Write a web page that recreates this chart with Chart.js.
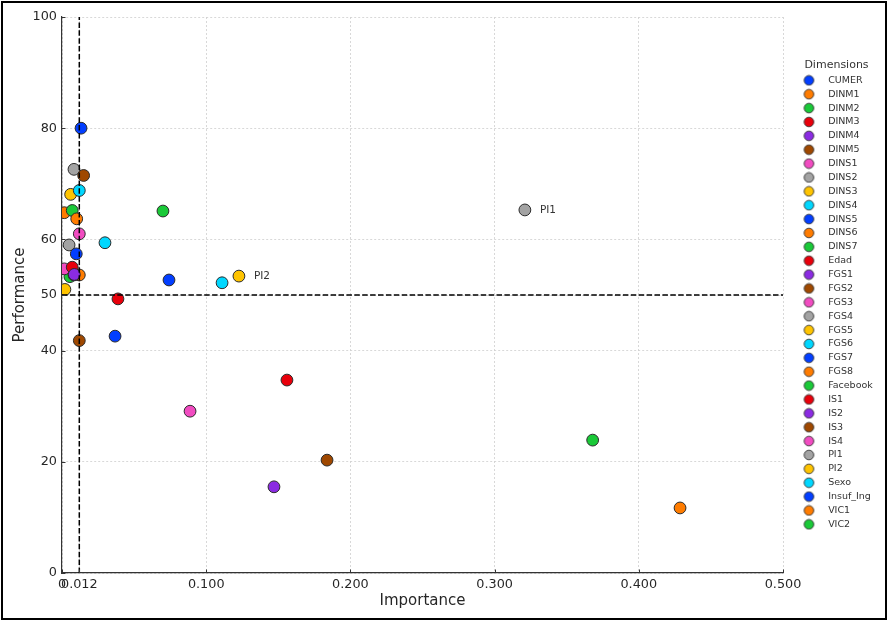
<!DOCTYPE html>
<html>
<head>
<meta charset="utf-8">
<script src="https://cdn.jsdelivr.net/npm/chart.js@4.4.1/dist/chart.umd.min.js"></script>
<style>
html, body { margin: 0; padding: 0; background: #fff; }
#wrap { position: relative; width: 890px; height: 622px; overflow: hidden; }
#c { position: absolute; left: 0; top: 0; }
#frame { position: absolute; left: 1px; top: 1px; width: 882px; height: 615px; border: 2px solid #000; pointer-events: none; }
</style>
</head>
<body>
<div id="wrap"><canvas id="c" width="890" height="622"></canvas><div id="frame"></div></div>
<script>
// ---- data ----
const dimensions = ['CUMER','DINM1','DINM2','DINM3','DINM4','DINM5','DINS1','DINS2','DINS3','DINS4','DINS5','DINS6','DINS7','Edad','FGS1','FGS2','FGS3','FGS4','FGS5','FGS6','FGS7','FGS8','Facebook','IS1','IS2','IS3','IS4','PI1','PI2','Sexo','Insuf_Ing','VIC1','VIC2'];
const importanceScores = [0.0132,0.0120,0.0055,0.0388,0.0083,0.0120,0.0016,0.0083,0.0060,0.0120,0.0368,0.0016,0.0071,0.0071,0.0085,0.0150,0.0120,0.0049,0.0020,0.0298,0.0099,0.0102,0.0700,0.1560,0.1470,0.1838,0.0888,0.3210,0.1227,0.1110,0.0742,0.4286,0.3680];
const performanceScores = [80.0,53.6,53.3,49.3,53.6,41.8,54.7,72.6,68.1,68.8,42.6,64.8,65.2,55.0,53.7,71.5,61.0,59.0,51.0,59.4,57.4,63.7,65.1,34.7,15.5,20.3,29.1,65.3,53.4,52.2,52.7,11.7,23.9];
const annotatedDimensions = ['PI1','PI2'];
const xTickValues = [0, 0.012, 0.1, 0.2, 0.3, 0.4, 0.5];
const xTickLabels = ['0','0.012','0.100','0.200','0.300','0.400','0.500'];
const yTickValues = [0, 20, 40, 50, 60, 80, 100];
const importanceThreshold = 0.012;
const performanceThreshold = 50;

// ---- styles ----
const palette = ['#023eff','#ff7c00','#1ac938','#e8000b','#8b2be2','#9f4800','#f14cc1','#a3a3a3','#ffc400','#00d7ff'];
const FONT = 'DejaVu Sans';
const TEXT = '#262626';
const legendBoxWidth = 107;

function legendMarker(color) {
  const cv = document.createElement('canvas');
  cv.width = 36; cv.height = 12;
  const g = cv.getContext('2d');
  g.beginPath();
  g.arc(21.6, 6, 4.8, 0, Math.PI * 2);
  g.fillStyle = color; g.fill();
  g.lineWidth = 0.9; g.strokeStyle = '#333'; g.stroke();
  return cv;
}
const legendMarkers = dimensions.map((_, i) => legendMarker(palette[i % palette.length]));

const datasets = dimensions.map((name, i) => ({
  type: 'scatter',
  label: name,
  data: [{ x: importanceScores[i], y: performanceScores[i] }],
  backgroundColor: palette[i % palette.length],
  borderColor: '#2b2b2b',
  borderWidth: 1,
  pointRadius: 5.9,
  pointHoverRadius: 5.9,
  clip: 0,
  order: dimensions.length - i
}));
datasets.push({
  type: 'line', label: 'importance threshold',
  data: [{ x: importanceThreshold, y: yTickValues[0] }, { x: importanceThreshold, y: yTickValues[yTickValues.length - 1] }],
  borderColor: '#000', borderWidth: 1.5, borderDash: [5.5, 2.4], pointRadius: 0, fill: false, clip: 0, order: -10
});
datasets.push({
  type: 'line', label: 'performance threshold',
  data: [{ x: xTickValues[0], y: performanceThreshold }, { x: xTickValues[xTickValues.length - 1], y: performanceThreshold }],
  borderColor: '#000', borderWidth: 1.5, borderDash: [5.5, 2.4], pointRadius: 0, fill: false, clip: 0, order: -10
});

const fixLegend = {
  id: 'fixLegend',
  beforeLayout(chart) {
    const lg = chart.legend;
    if (lg && !lg._fixedWidth) {
      const orig = lg.fit;
      lg.fit = function () { orig.call(this); this.width = legendBoxWidth; };
      lg._fixedWidth = true;
    }
  }
};

// small inward tick marks, as in the reference
const innerTicks = {
  id: 'innerTicks',
  afterDraw(chart) {
    const ctx = chart.ctx, xs = chart.scales.x, ys = chart.scales.y, a = chart.chartArea;
    ctx.save();
    ctx.strokeStyle = '#333';
    ctx.lineWidth = 1;
    ctx.beginPath();
    xTickValues.forEach(v => { const px = Math.round(xs.getPixelForValue(v)) + 0.5; ctx.moveTo(px, a.bottom); ctx.lineTo(px, a.bottom - 3.5); });
    yTickValues.forEach(v => { const py = Math.round(ys.getPixelForValue(v)) + 0.5; ctx.moveTo(a.left, py); ctx.lineTo(a.left + 3.5, py); });
    ctx.stroke();
    ctx.restore();
  }
};

const pointLabels = {
  id: 'pointLabels',
  afterDatasetsDraw(chart) {
    const ctx = chart.ctx;
    ctx.save();
    ctx.font = '10.5px "' + FONT + '"';
    ctx.fillStyle = '#333';
    ctx.textAlign = 'left';
    ctx.textBaseline = 'middle';
    annotatedDimensions.forEach(name => {
      const i = dimensions.indexOf(name);
      const el = chart.getDatasetMeta(i).data[0];
      if (el) ctx.fillText(name, el.x + 15, el.y);
    });
    ctx.restore();
  }
};

new Chart(document.getElementById('c'), {
  type: 'scatter',
  data: { datasets },
  plugins: [fixLegend, pointLabels, innerTicks],
  options: {
    responsive: false,
    animation: false,
    events: [],
    layout: { padding: { top: 17, left: 0, right: 0, bottom: 0 } },
    plugins: {
      tooltip: { enabled: false },
      legend: {
        position: 'right',
        align: 'start',
        title: {
          display: true, text: 'Dimensions', color: '#333',
          font: { family: FONT, size: 11 },
          padding: { top: 42.5, bottom: -1.5 }
        },
        labels: {
          usePointStyle: true,
          pointStyleWidth: 36,
          boxHeight: 9.5,
          padding: 4.375,
          color: '#333',
          font: { family: FONT, size: 9.5 },
          generateLabels: () => dimensions.map((name, i) => ({
            text: name,
            fillStyle: palette[i % palette.length],
            strokeStyle: '#333',
            lineWidth: 1,
            pointStyle: legendMarkers[i],
            datasetIndex: i,
            hidden: false,
            fontColor: '#333'
          }))
        }
      }
    },
    scales: {
      x: {
        type: 'linear',
        min: xTickValues[0],
        max: xTickValues[xTickValues.length - 1],
        afterBuildTicks: s => { s.ticks = xTickValues.map(v => ({ value: v })); },
        afterFit: s => { s.height = 49; },
        ticks: {
          autoSkip: false, maxRotation: 0, minRotation: 0, padding: 4,
          color: TEXT, font: { family: FONT, size: 12.8 },
          callback: v => xTickLabels[xTickValues.indexOf(v)]
        },
        grid: { color: '#cfcfcf', lineWidth: 0.8, drawTicks: false },
        border: { display: true, color: '#333', width: 1.2, dash: [2, 2] },
        title: { display: true, text: 'Importance', color: TEXT, font: { family: FONT, size: 15 }, padding: { top: 0, bottom: 12 } }
      },
      y: {
        type: 'linear',
        min: yTickValues[0],
        max: yTickValues[yTickValues.length - 1],
        afterBuildTicks: s => { s.ticks = yTickValues.map(v => ({ value: v })); },
        afterFit: s => { s.width = 62; },
        ticks: {
          autoSkip: false, padding: 5,
          color: TEXT, font: { family: FONT, size: 12.8 },
          callback: v => String(v)
        },
        grid: { color: '#cfcfcf', lineWidth: 0.8, drawTicks: false },
        border: { display: true, color: '#333', width: 1.2, dash: [2, 2] },
        title: { display: true, text: 'Performance', color: TEXT, font: { family: FONT, size: 15 }, padding: { top: 11, bottom: 0 } }
      }
    }
  }
});
</script>
</body>
</html>
